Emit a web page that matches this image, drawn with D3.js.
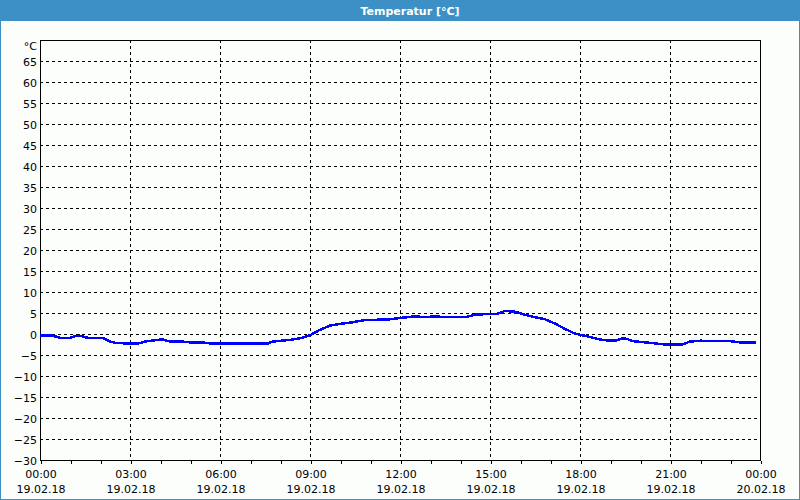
<!DOCTYPE html>
<html>
<head>
<meta charset="utf-8">
<script src="https://cdn.jsdelivr.net/npm/d3@7"></script>
<style>
  body { margin: 0; background: #fcfefc; }
  svg { display: block; font-family: "DejaVu Sans", Tahoma, sans-serif; }
</style>
</head>
<body>
<div class="chart"></div>
<script>
const times = ["00:00","00:25","00:40","01:00","01:10","01:20","01:35","02:05","02:20","02:30",
  "03:00","03:15","03:30","03:55","04:05","04:20","04:45","05:00","05:35","05:40",
  "07:35","07:45","08:20","08:45","09:00","09:20","09:40","10:00","10:20","10:50",
  "11:40","12:00","12:30","12:50","13:10","13:30","14:10","14:30","15:00","15:15",
  "15:30","15:50","16:10","16:30","16:50","17:10","17:30","17:50","18:20","18:40",
  "19:00","19:10","19:25","19:35","19:45","20:20","20:50","21:25","21:40","22:00",
  "23:00","23:20","23:52"];
const temps = [-0.4,-0.4,-0.9,-0.9,-0.5,-0.4,-0.9,-0.9,-1.8,-2.1,
  -2.3,-2.3,-1.8,-1.4,-1.3,-1.8,-1.8,-2.0,-2.1,-2.3,
  -2.3,-1.8,-1.4,-0.9,-0.3,1.0,2.0,2.4,2.7,3.3,
  3.5,3.8,4.2,4.0,4.2,4.0,4.0,4.6,4.8,4.8,
  5.5,5.3,4.6,4.0,3.5,2.5,1.2,0.1,-0.7,-1.3,
  -1.6,-1.6,-1.0,-1.2,-1.7,-2.1,-2.5,-2.5,-1.8,-1.6,
  -1.7,-2.0,-2.0];
const yTicks = [-30,-25,-20,-15,-10,-5,0,5,10,15,20,25,30,35,40,45,50,55,60,65];
const xHours = [0,3,6,9,12,15,18,21,24];
const xTimeLabels = ["00:00","03:00","06:00","09:00","12:00","15:00","18:00","21:00","00:00"];
const xDateLabels = ["19.02.18","19.02.18","19.02.18","19.02.18","19.02.18","19.02.18","19.02.18","19.02.18","20.02.18"];

const W = 800, H = 500;
const plot = { left: 40, right: 760, top: 40, bottom: 460 };

const toHours = s => { const p = s.split(":"); return +p[0] + p[1] / 60; };
const data = times.map((t, i) => ({ h: toHours(t), v: temps[i] }));

const x = d3.scaleLinear().domain([0, 24]).range([plot.left, plot.right]);
const y = d3.scaleLinear().domain([-30, 70]).range([plot.bottom, plot.top]);

const svg = d3.select("div.chart").append("svg")
  .attr("width", W)
  .attr("height", H);

svg.append("rect").attr("width", W).attr("height", H).attr("fill", "#fcfefc");

// title bar
svg.append("rect")
  .attr("x", 0).attr("y", 0).attr("width", W).attr("height", 21)
  .attr("fill", "#3c90c5");
svg.append("text")
  .attr("x", 410).attr("y", 15)
  .attr("text-anchor", "middle")
  .attr("font-size", 11)
  .attr("font-weight", "bold")
  .attr("fill", "white")
  .text("Temperatur [°C]");

// window frame
svg.append("rect")
  .attr("x", 0.5).attr("y", 0.5).attr("width", W - 1).attr("height", H - 1)
  .attr("fill", "none").attr("stroke", "#3c90c5");

// grid
const grid = svg.append("g").attr("stroke", "black").attr("stroke-dasharray", "3,3")
  .attr("shape-rendering", "crispEdges");
grid.selectAll("line.h")
  .data(yTicks.filter(v => v > -30))
  .enter().append("line")
  .attr("x1", plot.left).attr("x2", plot.right)
  .attr("y1", d => Math.round(y(d)) + 0.5)
  .attr("y2", d => Math.round(y(d)) + 0.5);
grid.selectAll("line.v")
  .data(xHours.filter(h => h > 0 && h < 24))
  .enter().append("line")
  .attr("y1", plot.top).attr("y2", plot.bottom)
  .attr("x1", d => Math.round(x(d)) + 0.5)
  .attr("x2", d => Math.round(x(d)) + 0.5);

// plot frame
svg.append("rect")
  .attr("x", plot.left + 0.5).attr("y", plot.top + 0.5)
  .attr("width", plot.right - plot.left).attr("height", plot.bottom - plot.top)
  .attr("fill", "none").attr("stroke", "black")
  .attr("shape-rendering", "crispEdges");

// y axis labels
const yAxis = d3.axisLeft(y).tickValues(yTicks).tickSize(0).tickPadding(3);
const gy = svg.append("g").attr("transform", `translate(${plot.left},1)`).call(yAxis);
gy.select(".domain").remove();
gy.selectAll("text").attr("font-size", 11).attr("font-family", "DejaVu Sans, sans-serif").attr("fill", "black");

svg.append("text")
  .attr("x", 37).attr("y", 50)
  .attr("text-anchor", "end")
  .attr("font-size", 11)
  .text("°C");

// x axis: hourly ticks, labels every 3 hours
const xAxis = d3.axisBottom(x).tickValues(d3.range(0, 25)).tickSize(3).tickFormat("");
const gx = svg.append("g").attr("transform", `translate(0.5,${plot.bottom + 0.5})`).call(xAxis);
gx.select(".domain").remove();
gx.selectAll("line").attr("shape-rendering", "crispEdges");

const labels = svg.append("g").attr("font-size", 11).attr("text-anchor", "middle");
labels.selectAll("text.t")
  .data(xHours)
  .enter().append("text")
  .attr("x", d => x(d) + 1)
  .attr("y", 478)
  .text((d, i) => xTimeLabels[i]);
labels.selectAll("text.d")
  .data(xHours)
  .enter().append("text")
  .attr("x", d => x(d) + 1)
  .attr("y", 493)
  .text((d, i) => xDateLabels[i]);

// series, drawn aliased like the original control
const line = d3.line()
  .x(d => x(d.h))
  .y(d => y(d.v));

svg.append("path")
  .datum(data)
  .attr("d", line)
  .attr("fill", "none")
  .attr("stroke", "#0000ff")
  .attr("stroke-width", 2.5)
  .attr("stroke-linejoin", "round")
  .attr("shape-rendering", "crispEdges");
</script>
</body>
</html>
